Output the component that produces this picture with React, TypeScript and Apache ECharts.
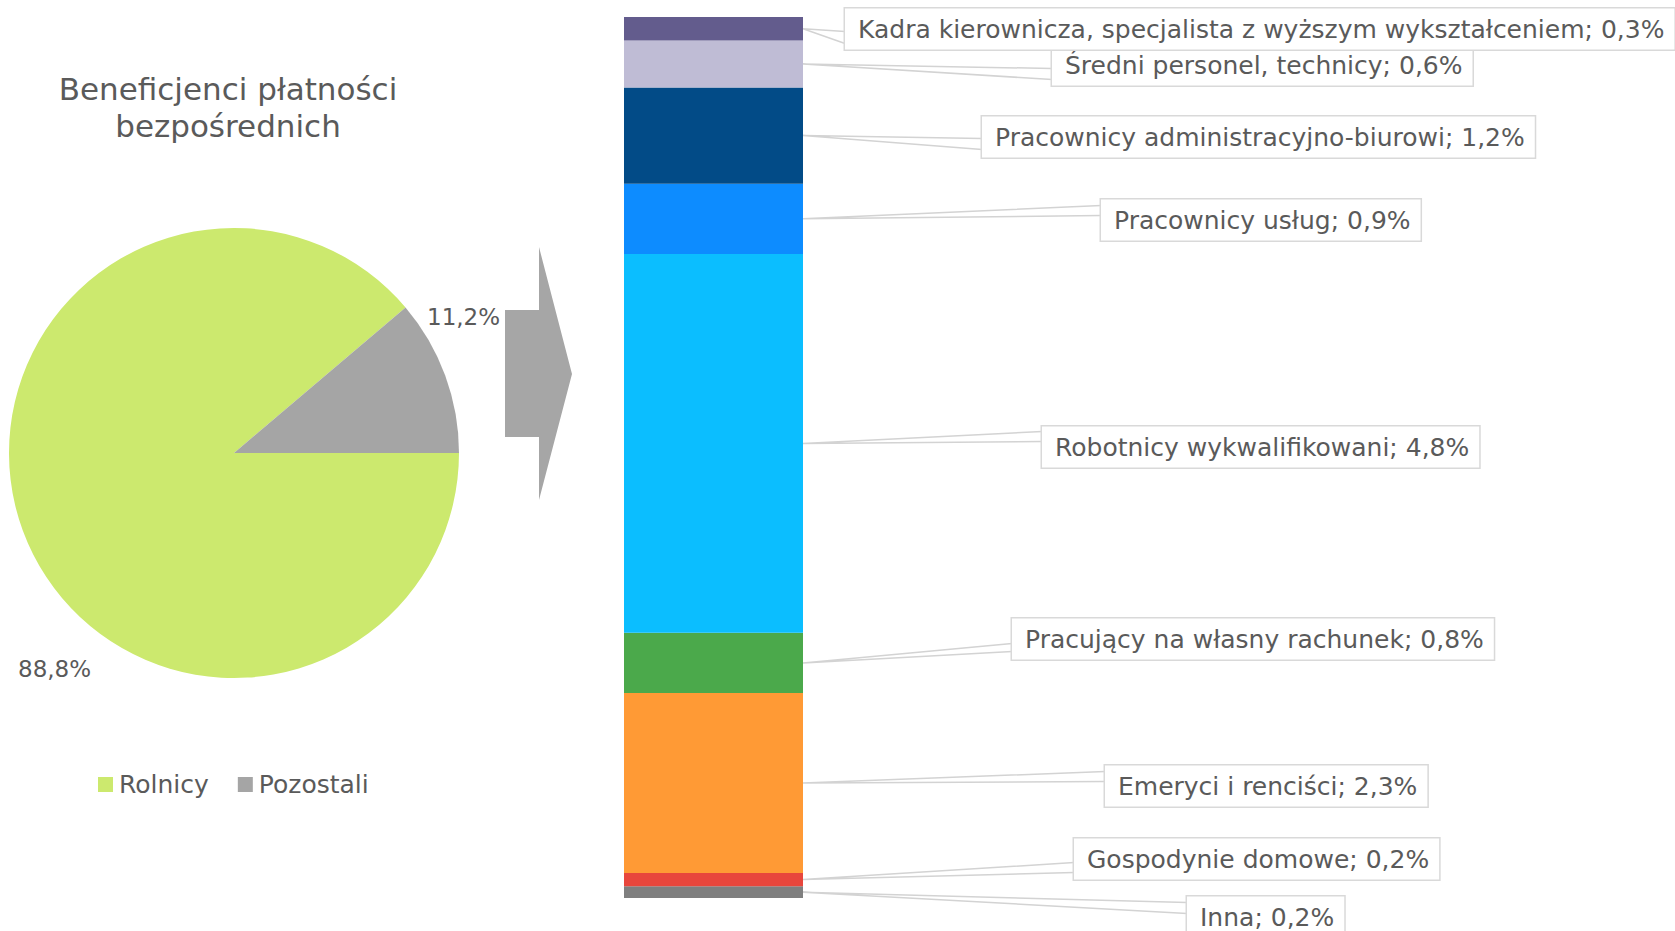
import React, { useEffect, useRef } from 'react';
import * as echarts from 'echarts';

// Pie: beneficiaries of direct payments
const pieNames = ['Rolnicy', 'Pozostali'];
const pieValues = [88.8, 11.2];
const pieColors = ['#CCE96E', '#A5A5A5'];

// Stacked column (bottom to top): breakdown of "Pozostali"
const barNames = [
  'Inna',
  'Gospodynie domowe',
  'Emeryci i renciści',
  'Pracujący na własny rachunek',
  'Robotnicy wykwalifikowani',
  'Pracownicy usług',
  'Pracownicy administracyjno-biurowi',
  'Średni personel, technicy',
  'Kadra kierownicza, specjalista z wyższym wykształceniem',
];
const barValues = [0.15, 0.17, 2.3, 0.77, 4.84, 0.9, 1.23, 0.6, 0.3];
const barColors = ['#7F7F7F', '#E8463C', '#FF9A35', '#4BA94B', '#0BBEFF', '#0D8CFF', '#024B87', '#BFBCD5', '#635C8D'];

// label box placement (layout only)
const labelLeft = [1187, 1074, 1105, 1012, 1042, 1101, 982, 1052, 845];
const labelMidY = [917, 859, 786, 639, 447, 220, 137, 65, 29];
// where the callout wedge meets the box's left edge (offsets from box top)
const wedgeTop = [6, 24, 6, 25, 5, 6, 22, 24, 23];
const wedgeBottom = [17, 34, 16, 33, 15, 16, 33, 35, 35];
const pieLabelLeft = [18, 427];
const pieLabelMidY = [669, 317];

const FONT = 'DejaVu Sans';
const TXT = '#5A5A5A';
const BOX_H = 41;

const fmt = (v: number) => (Math.round(v * 10) / 10).toFixed(1).replace('.', ',');

export default function App() {
  const ref = useRef<HTMLDivElement>(null);
  useEffect(() => {
    document.body.style.margin = '0';
    const chart = echarts.init(ref.current!, undefined, { renderer: 'svg' });
    const total = barValues.reduce((a, b) => a + b, 0);

    const starts: number[] = [];
    let acc = 0;
    barValues.forEach((v) => {
      starts.push(acc);
      acc += v;
    });

    const barSeries = barNames.map((name, i) => ({
      type: 'bar',
      name,
      stack: 'total',
      data: [barValues[i]],
      barWidth: '100%',
      z: 3,
      itemStyle: { color: barColors[i] },
      silent: true,
      label: {
        show: true,
        position: 'right',
        formatter: (p: any) => `${p.seriesName}; ${fmt(p.value)}%`,
        fontFamily: FONT,
        fontSize: 25,
        fontWeight: 'normal',
        color: TXT,
        lineHeight: 29,
        backgroundColor: '#FFFFFF',
        borderColor: '#D9D9D9',
        borderWidth: 1.5,
        padding: [6, 10, 6, 13],
      },
      labelLine: { show: false },
      labelLayout: () => ({
        x: labelLeft[i],
        y: labelMidY[i],
        align: 'left',
        verticalAlign: 'middle',
      }),
    }));

    const wedgeSeries = {
      type: 'custom',
      name: 'leader',
      silent: true,
      z: 1,
      encode: { x: 0, y: [1, 2] },
      data: barValues.map((v, i) => [0, starts[i], starts[i] + v, i]),
      renderItem: (params: any, api: any) => {
        const i = api.value(3);
        const mid = (api.value(1) + api.value(2)) / 2;
        const c = api.coord([0, mid]);
        const half = api.size([1, 0])[0] / 2;
        const ax = c[0] + half;
        const ay = c[1];
        const L = labelLeft[i];
        const top = labelMidY[i] - BOX_H / 2;
        return {
          type: 'polyline',
          shape: { points: [[L, top + wedgeTop[i]], [ax, ay], [L, top + wedgeBottom[i]]] },
          style: { stroke: '#D3D3D3', lineWidth: 1.5, fill: 'none' },
        };
      },
    };

    chart.setOption({
      animation: false,
      textStyle: { fontFamily: FONT },
      title: {
        text: 'Beneficjenci płatności\nbezpośrednich',
        left: 228,
        top: 70,
        padding: 0,
        textAlign: 'center',
        textStyle: { fontFamily: FONT, fontSize: 31, fontWeight: 'normal', color: TXT, lineHeight: 37 },
      },
      legend: {
        data: pieNames,
        left: 98,
        top: 772,
        padding: 0,
        icon: 'rect',
        itemWidth: 15,
        itemHeight: 15,
        itemGap: 29,
        textStyle: { fontFamily: FONT, fontSize: 25, fontWeight: 'normal', color: TXT, padding: [0, 0, 0, 1] },
        selectedMode: false,
      },
      grid: { left: 624, top: 17, width: 179, height: 881, containLabel: false },
      xAxis: { type: 'category', data: ['Pozostali'], show: false },
      yAxis: { type: 'value', min: 0, max: total, show: false },
      series: [
        {
          type: 'pie',
          center: [234, 453],
          radius: 225,
          startAngle: 0,
          clockwise: true,
          silent: true,
          data: pieNames.map((n, i) => ({ name: n, value: pieValues[i], itemStyle: { color: pieColors[i] } })),
          label: {
            show: true,
            position: 'inside',
            formatter: (p: any) => `${fmt(p.value)}%`,
            fontFamily: FONT,
            fontSize: 23,
            fontWeight: 'normal',
            color: TXT,
          },
          labelLine: { show: false },
          labelLayout: (params: any) => ({
            x: pieLabelLeft[params.dataIndex],
            y: pieLabelMidY[params.dataIndex],
            align: 'left',
            verticalAlign: 'middle',
          }),
        },
        wedgeSeries,
        ...barSeries,
      ],
      graphic: [
        {
          type: 'polygon',
          silent: true,
          shape: {
            points: [[505, 310], [539, 310], [539, 247], [572, 374], [539, 500], [539, 437], [505, 437]],
          },
          style: { fill: '#A6A6A6' },
        },
      ],
    });
    return () => chart.dispose();
  }, []);
  return <div ref={ref} style={{ width: 1675, height: 931 }} />;
}
